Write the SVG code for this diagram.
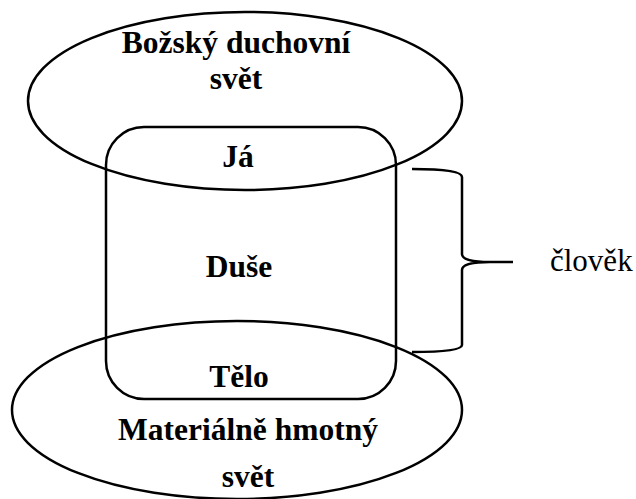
<svg xmlns="http://www.w3.org/2000/svg" width="636" height="499" viewBox="0 0 636 499">
  <style>
    .shape { fill: none; stroke: #000; stroke-width: 2.5; }
    text { font-family: 'Liberation Serif', 'Times New Roman', serif; fill: #000; }
    .lbl { font-size: 31.5px; font-weight: bold; text-anchor: middle; }
    .note { font-size: 31px; }
  </style>
  <rect width="636" height="499" fill="#fff"/>

  <g id="spiritual-world">
    <ellipse class="shape" cx="245" cy="101" rx="217" ry="89"/>
    <text class="lbl" x="236" y="53">Božský duchovní</text>
    <text class="lbl" x="236" y="89">svět</text>
  </g>

  <g id="material-world">
    <ellipse class="shape" cx="237" cy="410" rx="225" ry="89"/>
    <text class="lbl" x="248" y="440">Materiálně hmotný</text>
    <text class="lbl" x="248" y="487">svět</text>
  </g>

  <g id="human">
    <rect class="shape" x="106" y="127" width="290" height="272" rx="38" ry="38"/>
    <text class="lbl" x="238" y="167">Já</text>
    <text class="lbl" x="239" y="277">Duše</text>
    <text class="lbl" x="239" y="387">Tělo</text>
  </g>

  <g id="connectors">
    <!-- curly brace grouping Já / Duše / Tělo -->
    <path class="shape" d="M412,169 Q462,169 462,177 L462,254 Q462,262 490,262 L513,262 M490,262 Q462,262 462,270 L462,345 Q462,352 412,352"/>
  </g>

  <g id="human-label">
    <text class="note" x="550" y="271">člověk</text>
  </g>
</svg>
